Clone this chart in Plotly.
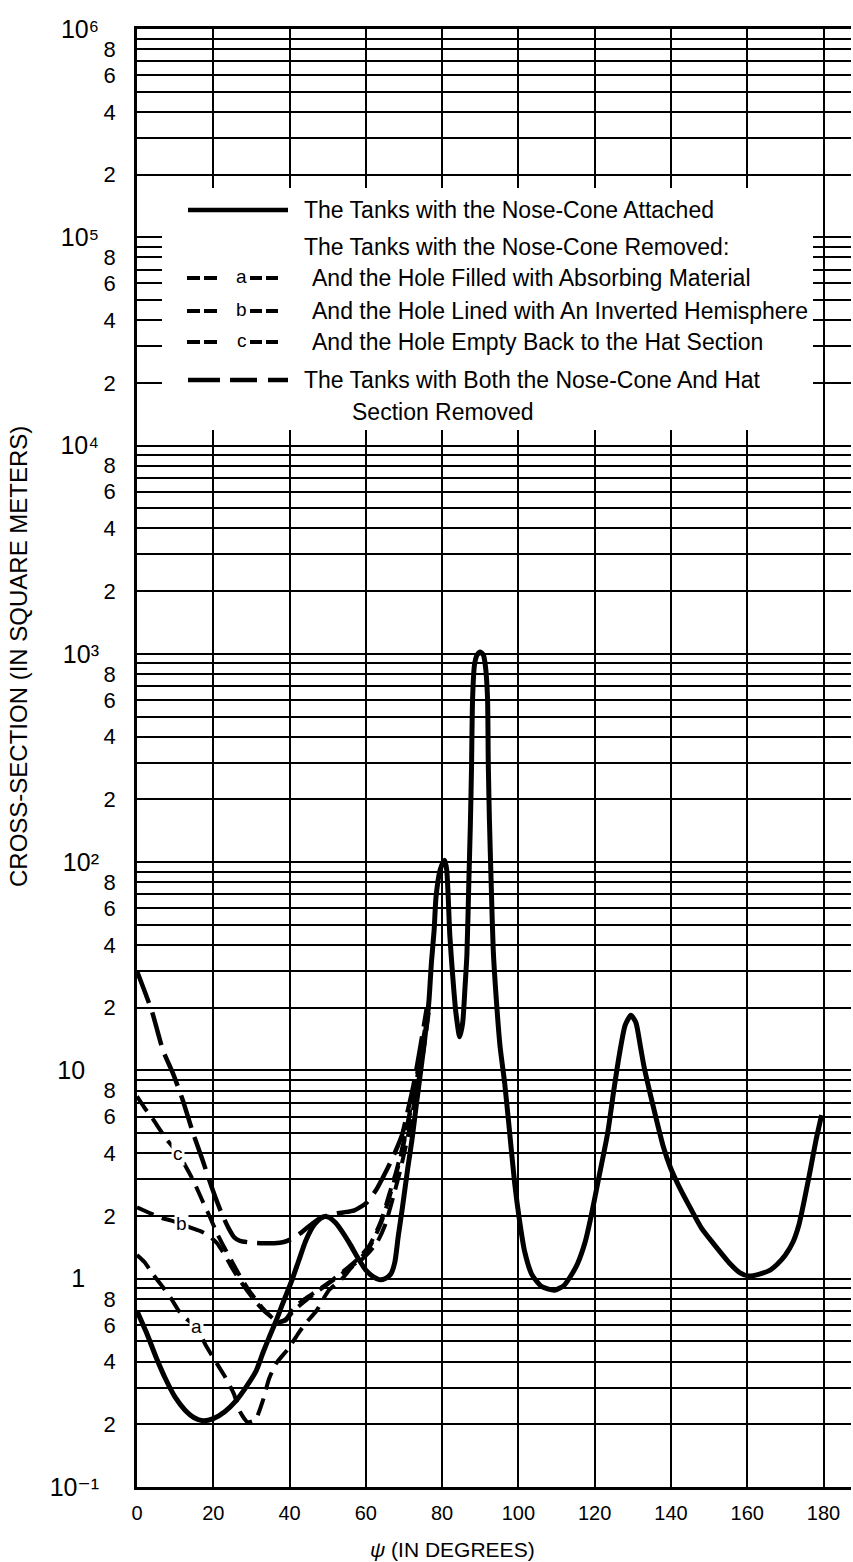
import math
import plotly.graph_objects as go

# ---------------- data ----------------
psi_attached = [0, 2.5, 5, 7.5, 10, 12.5, 15, 17.3, 20, 23, 26, 28.5, 31.2, 33, 34.6, 36.5, 38.2,
                40.5, 42.4, 44.3, 46.5, 48.5, 50, 52, 54, 56, 58, 60, 62, 63.5, 65, 66.5, 67.6,
                68.5, 69.6, 71, 72.2, 73.3, 74.4, 75.5, 76.5, 77.2, 77.9, 78.4, 79.5, 80.3, 80.7,
                81.2, 81.6, 82.0, 82.8, 83.6, 84.6, 85.4, 86.0, 86.5, 87.0, 87.4, 87.7, 88.0,
                88.5, 89.2, 90, 90.8, 91.3, 91.9, 92.1, 92.4, 92.9, 93.4, 94.2, 95.2, 96.4, 97.5,
                99, 100.3, 101.6, 103.5, 106, 109.4, 112, 114, 115.5, 117.5, 119, 121, 123.4, 125,
                126.5, 128, 129.5, 130.8, 132, 133, 134.5, 136.4, 138, 139.9, 142, 145, 148, 151.2,
                155.5, 158, 160.4, 163, 166, 168, 170, 172, 173.5, 175, 176.5, 178, 179.5]
cs_attached = [0.7, 0.55, 0.42, 0.33, 0.27, 0.235, 0.215, 0.208, 0.213, 0.23, 0.26, 0.3, 0.36, 0.44,
               0.52, 0.63, 0.76, 0.97, 1.22, 1.53, 1.82, 1.97, 1.98, 1.86, 1.66, 1.45, 1.25, 1.1,
               1.02, 0.99, 1.0, 1.05, 1.2, 1.6, 2.2, 3.4, 4.8, 7, 10, 14.5, 21, 33, 47, 68, 92,
               100, 102, 92, 68, 45, 28, 19, 14.5, 17, 25, 36, 80, 150, 280, 620, 890, 990, 1020,
               990, 890, 620, 300, 160, 75, 38, 22, 13, 8.7, 5.5, 2.9, 1.9, 1.36, 1.05, 0.92,
               0.88, 0.93, 1.05, 1.18, 1.5, 1.97, 3.0, 5.0, 8, 12, 16.5, 18.4, 17, 13, 10.3, 7.8,
               5.6, 4.3, 3.4, 2.8, 2.2, 1.75, 1.47, 1.18, 1.07, 1.03, 1.05, 1.1, 1.18, 1.3, 1.5,
               1.8, 2.4, 3.3, 4.6, 6.1]

psi_a = [0, 2, 4, 7, 9, 11, 13, 15.6, 18, 21, 23, 25.4, 27, 29, 31, 33, 34.6, 36.4, 39.6, 42.4,
         44.2, 47, 50.3, 53.8, 56.4, 59, 61, 63, 65, 67, 69, 71, 73, 75, 76.5]
cs_a = [1.3, 1.2, 1.06, 0.9, 0.8, 0.7, 0.64, 0.587, 0.48, 0.39, 0.34, 0.28, 0.23, 0.205, 0.21,
        0.26, 0.33, 0.39, 0.46, 0.55, 0.61, 0.7, 0.88, 1.0, 1.14, 1.24, 1.35, 1.5, 1.8, 2.4, 3.3,
        4.8, 7.5, 12, 19]

psi_b = [0, 3, 6, 9, 11.6, 14, 17, 19, 21, 23, 25, 27, 29, 31, 33, 35, 37, 39, 41, 44, 47, 51,
         55, 58, 61, 64, 66, 68, 70, 72, 74, 76]
cs_b = [2.2, 2.08, 1.97, 1.9, 1.84, 1.76, 1.68, 1.6, 1.48, 1.3, 1.12, 0.98, 0.87, 0.78, 0.71,
        0.66, 0.62, 0.63, 0.7, 0.78, 0.86, 0.97, 1.1, 1.22, 1.42, 1.85, 2.4, 3.2, 4.5, 6.8,
        10.5, 17]

psi_c = [0, 2, 4, 6, 8, 10.8, 13, 15, 17, 19, 21, 23, 25, 27, 29, 31, 33, 35, 37, 39, 41, 44,
         47, 51, 55, 58, 61, 64, 66, 68, 70, 72, 74, 76]
cs_c = [7.5, 6.6, 5.9, 5.2, 4.6, 4.0, 3.4, 2.9, 2.4, 2.0, 1.65, 1.4, 1.2, 1.03, 0.9, 0.8, 0.72,
        0.66, 0.62, 0.64, 0.72, 0.8, 0.87, 0.98, 1.12, 1.25, 1.45, 1.9, 2.5, 3.3, 4.6, 7, 11, 18]

psi_both = [0, 2, 4, 6.8, 9.4, 12, 14.7, 17, 19.9, 22, 24, 25.5, 27, 30, 33, 36, 38.5, 40.5, 43,
            45, 48, 51, 54, 57, 60, 62.6, 65, 67, 69.5, 71, 72.5, 74.3, 76]
cs_both = [30, 24, 19, 12.5, 9.7, 7.2, 5.0, 3.8, 2.65, 2.1, 1.75, 1.58, 1.52, 1.49, 1.48, 1.48,
           1.5, 1.55, 1.66, 1.78, 1.95, 2.04, 2.08, 2.13, 2.3, 2.65, 3.2, 3.8, 4.9, 6.4, 8.5,
           13, 20]

curve_labels = ["a", "b", "c"]
curve_label_psi = [15.6, 11.6, 10.8]
curve_label_cs = [0.587, 1.84, 4.0]

x_ticks = [0, 20, 40, 60, 80, 100, 120, 140, 160, 180]
x_ticklabels = [str(v) for v in x_ticks]
decade_exps = [-1, 0, 1, 2, 3, 4, 5, 6]
decade_labels = ["10\u207b\u00b9", "1\u2007", "10\u2007", "10\u00b2",
                 "10\u00b3", "10\u2074", "10\u2075", "10\u2076"]
labelled_mults = [2, 4, 6, 8]
unlabelled_mults = [3, 5, 7, 9]

legend_texts = ["The Tanks with the Nose-Cone Attached",
                "The Tanks with the Nose-Cone Removed:",
                "And the Hole Filled with Absorbing Material",
                "And the Hole Lined with An Inverted Hemisphere",
                "And the Hole Empty Back to the Hat Section",
                "The Tanks with Both the Nose-Cone And Hat",
                "Section Removed"]

# ---------------- geometry / style ----------------
W, H = 853, 1562
L, R, T, B = 137, 2, 29, 75
PW, PH = W - L - R, H - T - B
FONT = "Liberation Sans, Arial, DejaVu Sans, sans-serif"
BLACK = "#000000"
SHORT_DASH = "18px,9px"
LONG_DASH = "34px,10px"


def xp(px):
    return (px - L) / PW


def yp(py):
    return (H - B - py) / PH


fig = go.Figure()


def add_curve(xs, ys, dash, width, yaxis="y"):
    fig.add_trace(go.Scatter(x=xs, y=ys, mode="lines", yaxis=yaxis,
                             line=dict(color=BLACK, width=width, dash=dash,
                                       shape="spline", smoothing=0.6),
                             hoverinfo="skip", showlegend=False))


add_curve(psi_both, cs_both, LONG_DASH, 4.5)
add_curve(psi_c, cs_c, SHORT_DASH, 4)
add_curve(psi_b, cs_b, SHORT_DASH, 4)
add_curve(psi_a, cs_a, SHORT_DASH, 4)
add_curve(psi_attached, cs_attached, "solid", 5, yaxis="y2")

# labelled minor values (2,4,6,8) and unlabelled grid values (3,5,7,9)
major_vals = [m * 10 ** e for e in range(-1, 6) for m in labelled_mults]
major_text = [str(m) for e in range(-1, 6) for m in labelled_mults]
grid_vals = [m * 10 ** e for e in range(-1, 6) for m in unlabelled_mults]
decade_vals = [10 ** e for e in decade_exps]

fig.update_layout(
    width=W, height=H,
    margin=dict(l=L, r=R, t=T, b=B, pad=0),
    paper_bgcolor="white", plot_bgcolor="white",
    showlegend=False,
    font=dict(family=FONT, color=BLACK),
    xaxis=dict(range=[0, PW / 3.814], tickmode="array", tickvals=x_ticks,
               ticktext=x_ticklabels, showgrid=True, gridcolor=BLACK, gridwidth=2,
               zeroline=False, showline=True, linecolor=BLACK, linewidth=3, mirror=True,
               ticks="", tickfont=dict(size=20, family=FONT, color=BLACK),
               ticklabelstandoff=6),
    yaxis=dict(type="log", range=[-1, 6], tickmode="array", tickvals=major_vals,
               ticktext=major_text, showgrid=True, gridcolor=BLACK, gridwidth=2,
               minor=dict(tickmode="array", tickvals=grid_vals, showgrid=True,
                          gridcolor=BLACK, gridwidth=2, ticks=""),
               zeroline=False, showline=True, linecolor=BLACK, linewidth=2.5,
               ticks="", tickfont=dict(size=22, family=FONT, color=BLACK),
               ticklabelstandoff=14),
    yaxis2=dict(type="log", range=[-1, 6], overlaying="y", side="left", anchor="x",
                tickmode="array", tickvals=decade_vals,
                ticktext=decade_labels, showgrid=True, gridcolor=BLACK, gridwidth=2,
                zeroline=False, showline=False,
                ticks="", tickfont=dict(size=25, family=FONT, color=BLACK),
                ticklabelstandoff=37),
)

shapes = []
# legend background box
shapes.append(dict(type="rect", xref="paper", yref="paper", x0=xp(162), x1=xp(813),
                   y0=yp(430), y1=yp(188), fillcolor="white", line=dict(width=0),
                   layer="above"))


def seg(x0, x1, y, width):
    return dict(type="line", xref="paper", yref="paper", x0=xp(x0), x1=xp(x1),
                y0=yp(y), y1=yp(y), line=dict(color=BLACK, width=width), layer="above")


shapes.append(seg(188, 288, 210, 4.5))
for ry in (278, 311, 342):
    for a0, a1 in ((187, 200), (204, 217), (250, 262), (266, 278)):
        shapes.append(seg(a0, a1, ry, 4))
for a0, a1 in ((188, 220), (230, 257), (268, 288)):
    shapes.append(seg(a0, a1, 380, 4.5))
fig.update_layout(shapes=shapes)

ann = []
text_pos = [(302, 210), (302, 247), (310, 278), (310, 311), (310, 342), (302, 380), (350, 412)]
for t, (px, py) in zip(legend_texts, text_pos):
    ann.append(dict(text=t, xref="paper", yref="paper", x=xp(px), y=yp(py),
                    xanchor="left", yanchor="middle", showarrow=False,
                    font=dict(size=23, family=FONT, color=BLACK)))
for lab, py in zip(curve_labels, (278, 311, 342)):
    ann.append(dict(text=lab, xref="paper", yref="paper", x=xp(241.5), y=yp(py - 2),
                    xanchor="center", yanchor="middle", showarrow=False,
                    font=dict(size=19, family=FONT, color=BLACK)))
# curve labels inside the plot
for lab, px_, cs_ in zip(curve_labels, curve_label_psi, curve_label_cs):
    ann.append(dict(text=lab, x=px_, y=math.log10(cs_), xref="x", yref="y",
                    showarrow=False, bgcolor="white", borderpad=1,
                    font=dict(size=19, family=FONT, color=BLACK)))
# axis titles
ann.append(dict(text="CROSS-SECTION (IN SQUARE METERS)", xref="paper", yref="paper",
                x=xp(18), y=yp(657), textangle=-90, showarrow=False,
                xanchor="center", yanchor="middle",
                font=dict(size=24, family=FONT, color=BLACK)))
ann.append(dict(text="<i>\u03c8</i> (IN DEGREES)", xref="paper", yref="paper",
                x=xp(452), y=yp(1549), showarrow=False, xanchor="center",
                yanchor="middle", font=dict(size=21, family=FONT, color=BLACK)))
fig.update_layout(annotations=ann)

fig.write_html("out.html", config={"displayModeBar": False},
               post_script="document.body.style.margin='0';")
